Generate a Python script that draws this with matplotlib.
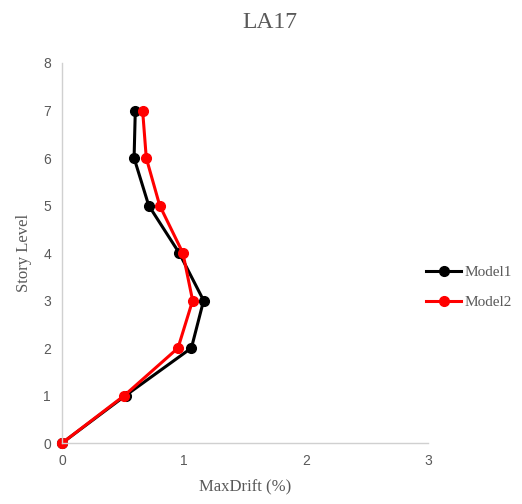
import matplotlib
matplotlib.use('Agg')
import matplotlib.pyplot as plt
from matplotlib.lines import Line2D

levels = [0, 1, 2, 3, 4, 5, 6, 7]
drift_model1 = [0.0, 0.52, 1.06, 1.16, 0.96, 0.71, 0.59, 0.60]
drift_model2 = [0.0, 0.51, 0.95, 1.07, 0.99, 0.80, 0.69, 0.66]
series_names = ["Model1", "Model2"]
series_colors = ["black", "#ff0000"]

SERIF = "Liberation Serif"
TICK_FONT = "Liberation Sans"
GRAY = "#595959"

fig = plt.figure(figsize=(5.22, 5.04), dpi=100)
ax = fig.add_axes([0.119, 0.121, 0.701, 0.754])

for vals, name, col in zip([drift_model1, drift_model2], series_names, series_colors):
    ax.plot(vals, levels, '-o', color=col, lw=2.2, markersize=7, label=name)

ax.set_xlim(0, 3)
ax.set_ylim(0, 8)
ax.set_xticks([0, 1, 2, 3])
ax.set_yticks(range(9))
for spine in ['top', 'right']:
    ax.spines[spine].set_visible(False)
for spine in ['left', 'bottom']:
    ax.spines[spine].set_color('#d0d0d0')
    ax.spines[spine].set_linewidth(1.0)
ax.tick_params(axis='both', length=0, pad=8, labelsize=10, colors=GRAY)
for lbl in ax.get_xticklabels() + ax.get_yticklabels():
    lbl.set_fontfamily(TICK_FONT)
for line in ax.get_lines():
    line.set_clip_on(False)

ax.set_xlabel("MaxDrift (%)", fontfamily=SERIF, fontsize=12, color=GRAY, labelpad=8)
ax.set_ylabel("Story Level", fontfamily=SERIF, fontsize=12, color=GRAY, labelpad=8)

fig.text(0.517, 0.955, "LA17", ha='center', va='center', fontfamily=SERIF,
         fontsize=17, color=GRAY)
# panel label sits mostly above the visible area in the original
fig.text(0.64, 1.024, "(c)", ha='center', va='center', fontfamily=SERIF,
         fontsize=17, color=GRAY)

handles = [Line2D([0], [0], color=c, lw=2.2, marker='o', markersize=7)
           for c in series_colors]
fig.legend(handles, series_names, loc='center left', bbox_to_anchor=(0.79, 0.43),
           frameon=False, handlelength=2.3, handletextpad=0.2, labelspacing=1.1,
           prop={'family': SERIF, 'size': 11}, labelcolor=GRAY)

fig.savefig("out.png", dpi=100)
